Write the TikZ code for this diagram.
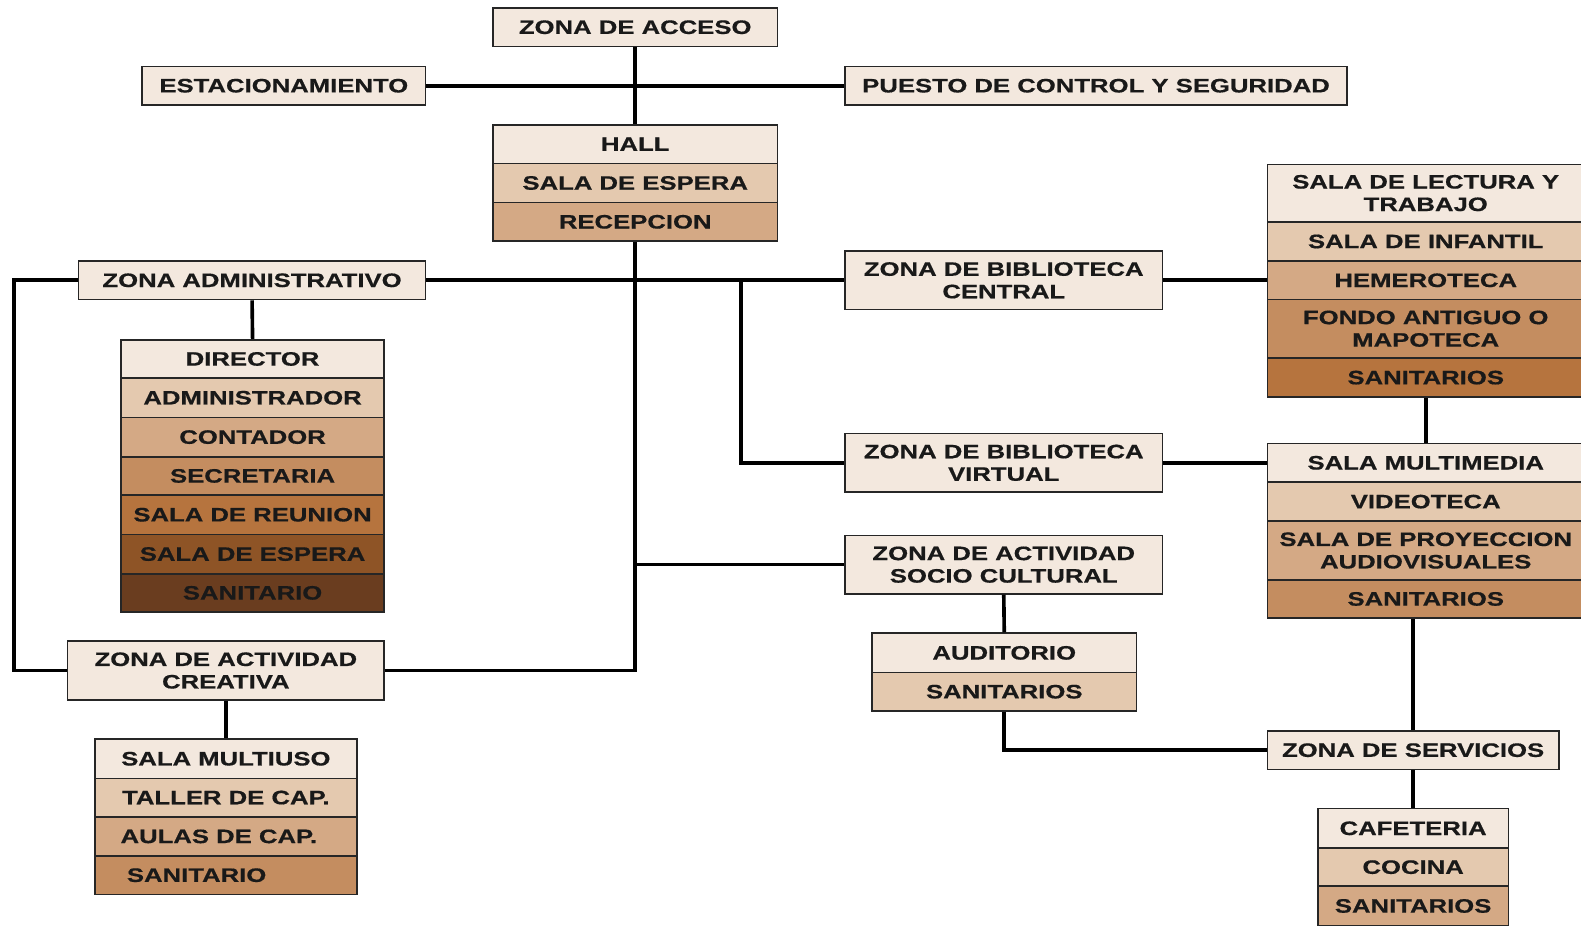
\documentclass[tikz,border=0pt]{standalone}
\usepackage{fontspec}
\newfontfamily\lbl[FakeStretch=1.32,FakeBold=0.6]{Liberation Sans}
\definecolor{ca}{HTML}{F3E8DE}
\definecolor{cb}{HTML}{E4C9AF}
\definecolor{cc}{HTML}{D4A985}
\definecolor{cd}{HTML}{C48D60}
\definecolor{ce}{HTML}{B6743E}
\definecolor{cf}{HTML}{8E5426}
\definecolor{cg}{HTML}{6A3D1F}
\tikzset{
  rowbox/.style={draw=black!85, line width=1.6pt, inner sep=0pt, align=center, text=black!90,
    font=\lbl\bfseries\fontsize{19.3}{22.3}\selectfont},
  link/.style={line width=3.6pt, black}
}
\newcommand\rbox[7]{\node[rowbox, fill=#6, minimum width={#4-#2}, minimum height={#5-#3}] (#1) at ({(#2+#4)/2},{(#3+#5)/2}) {#7};}
\begin{document}
\begin{tikzpicture}[x=1pt,y=-1pt]
\useasboundingbox[fill=white] (0,0) rectangle (1568,918);
% top
\rbox{acceso}{489}{8}{771}{46}{ca}{ZONA DE ACCESO}
\rbox{estac}{141}{66}{422}{104}{ca}{ESTACIONAMIENTO}
\rbox{puesto}{838}{66}{1336}{104}{ca}{PUESTO DE CONTROL Y SEGURIDAD}
\rbox{hall}{489}{124}{771}{162}{ca}{HALL}
\rbox{espera}{489}{162}{771}{201}{cb}{SALA DE ESPERA}
\rbox{recep}{489}{201}{771}{239}{cc}{RECEPCION}
% admin
\rbox{zadmin}{78}{259}{422}{297}{ca}{ZONA ADMINISTRATIVO}
\rbox{director}{120}{337}{381}{375}{ca}{DIRECTOR}
\rbox{adminis}{120}{375}{381}{414}{cb}{ADMINISTRADOR}
\rbox{contador}{120}{414}{381}{453}{cc}{CONTADOR}
\rbox{secret}{120}{453}{381}{491}{cd}{SECRETARIA}
\rbox{reunion}{120}{491}{381}{530}{ce}{SALA DE REUNION}
\rbox{esperaA}{120}{530}{381}{569}{cf}{SALA DE ESPERA}
\rbox{sanA}{120}{569}{381}{607}{cg}{SANITARIO}
% biblioteca central
\rbox{zbc}{838}{249}{1153}{307}{ca}{ZONA DE BIBLIOTECA\\CENTRAL}
\rbox{lectura}{1257}{163}{1571}{220}{ca}{SALA DE LECTURA Y\\TRABAJO}
\rbox{infantil}{1257}{220}{1571}{259}{cb}{SALA DE INFANTIL}
\rbox{hemero}{1257}{259}{1571}{297}{cc}{HEMEROTECA}
\rbox{fondo}{1257}{297}{1571}{355}{cd}{FONDO ANTIGUO O\\MAPOTECA}
\rbox{sanB}{1257}{355}{1571}{394}{ce}{SANITARIOS}
% biblioteca virtual
\rbox{zbv}{838}{430}{1153}{488}{ca}{ZONA DE BIBLIOTECA\\VIRTUAL}
\rbox{mm}{1257}{440}{1571}{478}{ca}{SALA MULTIMEDIA}
\rbox{video}{1257}{478}{1571}{517}{cb}{VIDEOTECA}
\rbox{proy}{1257}{517}{1571}{575}{cc}{SALA DE PROYECCION\\AUDIOVISUALES}
\rbox{sanV}{1257}{575}{1571}{613}{cd}{SANITARIOS}
% socio cultural
\rbox{zsocio}{838}{531}{1153}{589}{ca}{ZONA DE ACTIVIDAD\\SOCIO CULTURAL}
\rbox{aud}{865}{628}{1127}{667}{ca}{AUDITORIO}
\rbox{sanAud}{865}{667}{1127}{705}{cb}{SANITARIOS}
% servicios
\rbox{zserv}{1257}{725}{1546}{763}{ca}{ZONA DE SERVICIOS}
\rbox{cafe}{1307}{802}{1496}{841}{ca}{CAFETERIA}
\rbox{cocina}{1307}{841}{1496}{879}{cb}{COCINA}
\rbox{sanC}{1307}{879}{1496}{918}{cc}{SANITARIOS}
% creativa
\rbox{zcreat}{67}{636}{381}{694}{ca}{ZONA DE ACTIVIDAD\\CREATIVA}
\rbox{multi}{94}{733}{354}{772}{ca}{SALA MULTIUSO}
\rbox{taller}{94}{772}{354}{810}{cb}{TALLER DE CAP.}
\rbox{aulas}{94}{810}{354}{849}{cc}{\hspace*{-14pt}AULAS DE CAP.}
\rbox{sanM}{94}{849}{354}{887}{cd}{\hspace*{-58pt}SANITARIO}
% connectors
\coordinate (L) at (14,278);
\coordinate (V) at (735,278);
\draw[link] (estac.east) -- (puesto.west);
\draw[link] (acceso.south) -- (hall.north);
\draw[link] (zadmin.east) -- (zbc.west);
\draw[link] (zadmin.west) -- (L) |- (zcreat.west);
\draw[link] (recep.south) |- (zcreat.east);
\draw[link] (zsocio.west) -- (zsocio.west -| recep.south);
\draw[link] (V) |- (zbv.west);
\draw[link] (zbc.east) -- (hemero.west);
\draw[link] (zbv.east) -- (mm.west);
\draw[link] (sanB.south) -- (mm.north);
\draw[link] (zserv.north) -- (zserv.north |- sanV.south);
\draw[link] (zsocio.south) -- (aud.north);
\draw[link] (sanAud.south) |- (zserv.west);
\draw[link] (zserv.south) -- (cafe.north);
\draw[link] (zcreat.south) -- (multi.north);
\draw[link] (zadmin.south) -- (director.north);
\end{tikzpicture}
\end{document}
